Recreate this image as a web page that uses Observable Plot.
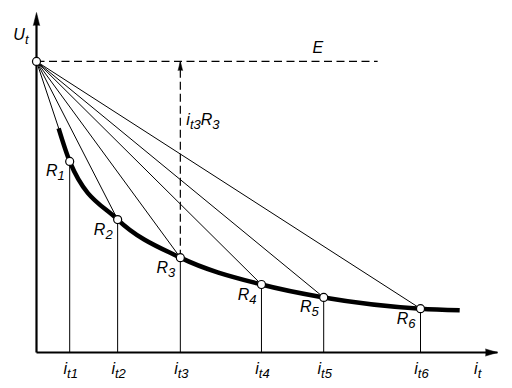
<!DOCTYPE html>
<html>
<head>
<meta charset="utf-8">
<script src="https://cdn.jsdelivr.net/npm/d3@7"></script>
<script src="https://cdn.jsdelivr.net/npm/@observablehq/plot@0.6"></script>
<style>
  html, body { margin: 0; padding: 0; background: #fff; }
  svg { display: block; }
</style>
</head>
<body>
<div id="chart"></div>
<script>
// Source voltage (open-circuit point on the U axis)
const E = 8.56;
// Operating points R1..R6 on the characteristic
const pointNames = ["R_{1}", "R_{2}", "R_{3}", "R_{4}", "R_{5}", "R_{6}"];
const pointI = [0.72, 1.76, 3.12, 4.88, 6.23, 8.33];
const pointU = [5.62, 3.91, 2.79, 2.0, 1.62, 1.29];
// Tick labels on the current axis
const tickNames = ["i_{t1}", "i_{t2}", "i_{t3}", "i_{t4}", "i_{t5}", "i_{t6}"];
// Thick characteristic curve
const curveI = [0.48, 0.72, 1.76, 3.12, 4.88, 6.23, 8.33, 9.18];
const curveU = [6.59, 5.62, 3.91, 2.79, 2.0, 1.62, 1.29, 1.24];
// Extent of the dashed E line
const eLineEnd = 7.4;
// Axis extents
const iMax = 10, uMax = 10;

const points = pointNames.map((name, k) => ({name, i: pointI[k], u: pointU[k], tick: tickNames[k]}));
const curve = curveI.map((i, k) => ({i, u: curveU[k]}));
const r3 = points[2];

const font = {fontFamily: "Liberation Sans, Arial, sans-serif", fontSize: 16, fontStyle: "italic", fill: "black"};

const chart = Plot.plot({
  width: 512,
  height: 388,
  marginLeft: 36,
  marginRight: 15,
  marginTop: 12,
  marginBottom: 36,
  x: {domain: [0, iMax], axis: null},
  y: {domain: [0, uMax], axis: null},
  marks: [
    // dashed E line
    Plot.link([{x1: 0, x2: eLineEnd, y: E}], {x1: "x1", x2: "x2", y1: "y", y2: "y", stroke: "black", strokeWidth: 1.2, strokeDasharray: "8,4.5"}),
    // dashed i_t3 R3 line
    Plot.link([r3], {x1: "i", x2: "i", y1: "u", y2: () => E, stroke: "black", strokeWidth: 1.2, strokeDasharray: "8,4"}),
    Plot.vector([r3], {x: "i", y: () => E, rotate: 0, length: 9, r: 2.3, anchor: "end", shape: "spike", fill: "black", stroke: "black", strokeWidth: 0.5}),
    // drop lines
    Plot.link(points, {x1: "i", x2: "i", y1: () => 0, y2: "u", stroke: "black", strokeWidth: 1}),
    // load lines from E
    Plot.link(points, {x1: () => 0, y1: () => E, x2: "i", y2: "u", stroke: "black", strokeWidth: 1}),
    // characteristic curve
    Plot.line(curve, {x: "i", y: "u", curve: "monotone-x", stroke: "black", strokeWidth: 4.5, strokeLinecap: "butt"}),
    // axes
    Plot.link([{a: 0}], {x1: () => 0, x2: () => iMax, y1: () => 0, y2: () => 0, stroke: "black", strokeWidth: 2.2}),
    Plot.link([{a: 0}], {x1: () => 0, x2: () => 0, y1: () => 0, y2: () => uMax - 0.2, stroke: "black", strokeWidth: 2.2}),
    Plot.vector([{a: 0}], {x: () => iMax, y: () => 0, rotate: 90, length: 12, r: 3.5, anchor: "end", shape: "spike", fill: "black", stroke: "black", strokeWidth: 0.5}),
    Plot.vector([{a: 0}], {x: () => 0, y: () => uMax, rotate: 0, length: 13, r: 3.2, anchor: "end", shape: "spike", fill: "black", stroke: "black", strokeWidth: 0.5}),
    // points
    Plot.dot(points, {x: "i", y: "u", r: 4, fill: "white", stroke: "black", strokeWidth: 1.2}),
    Plot.dot([{a: 0}], {x: () => 0, y: () => E, r: 4, fill: "white", stroke: "black", strokeWidth: 1.2}),
    // labels
    Plot.text(points, {x: "i", y: "u", text: "name", textAnchor: "end", lineAnchor: "bottom", dx: -5, dy: 15, ...font}),
    Plot.text(points, {x: "i", y: () => 0, text: "tick", textAnchor: "middle", lineAnchor: "bottom", dx: 1, dy: 21, ...font}),
    Plot.text([{t: "i_{t}"}], {x: () => 9.57, y: () => 0, text: "t", textAnchor: "middle", lineAnchor: "bottom", dy: 21, ...font}),
    Plot.text([{t: "U_{t}"}], {x: () => 0, y: () => 9.2, text: "t", textAnchor: "end", lineAnchor: "bottom", dx: -8, ...font}),
    Plot.text([{t: "E"}], {x: () => 6.1, y: () => E, text: "t", textAnchor: "middle", lineAnchor: "bottom", dy: -8, ...font}),
    Plot.text([{t: "i_{t3}R_{3}"}], {x: () => r3.i, y: () => 6.7, text: "t", textAnchor: "start", lineAnchor: "bottom", dx: 6, ...font})
  ]
});

// turn "_{...}" into real subscript tspans
const NS = "http://www.w3.org/2000/svg";
chart.querySelectorAll("text").forEach(t => {
  const s = t.textContent;
  if (!s.includes("_{")) return;
  t.textContent = "";
  const re = /_\{([^}]*)\}/g;
  let last = 0, m, shifted = false;
  const shift = 4;
  const add = (str, sub) => {
    const ts = document.createElementNS(NS, "tspan");
    ts.textContent = str;
    if (sub) {
      ts.setAttribute("font-size", "13");
      if (!shifted) { ts.setAttribute("dy", shift); shifted = true; }
    } else if (shifted) {
      ts.setAttribute("dy", -shift); shifted = false;
    }
    t.appendChild(ts);
  };
  while ((m = re.exec(s))) {
    if (m.index > last) add(s.slice(last, m.index), false);
    add(m[1], true);
    last = re.lastIndex;
  }
  if (last < s.length) add(s.slice(last), false);
});

document.getElementById("chart").appendChild(chart);
</script>
</body>
</html>
